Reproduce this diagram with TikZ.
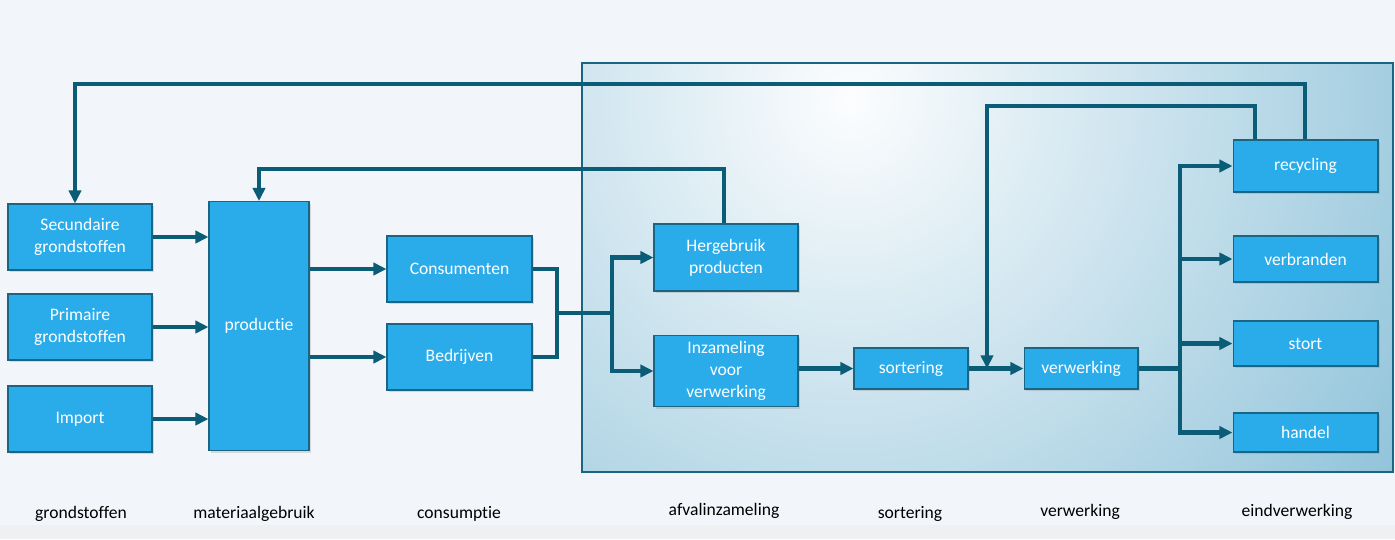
\documentclass[tikz,border=0pt]{standalone}
\usepackage{fontspec}
\setmainfont{Carlito}[Ligatures=NoCommon]
\usepackage{xcolor}
\usetikzlibrary{
    arrows.meta,
    shadows,
    calc,
    positioning
}
\definecolor{pagebg}{HTML}{F2F5FA}
\definecolor{stripbg}{HTML}{EFF0F2}
\definecolor{boxfill}{HTML}{2AACEB}
\definecolor{boxline}{HTML}{1B6584}
\definecolor{flowline}{HTML}{0B5C76}
\definecolor{zoneouter}{HTML}{8EC2D9}
\definecolor{zoneinner}{HTML}{FCFDFE}
\tikzset{
    stage/.style={rectangle, draw=boxline, line width=0.6pt, fill=boxfill,
        text=white, align=center, font=\fontsize{10}{12.5}\selectfont,
        drop shadow={opacity=0.25, shadow xshift=1.2pt, shadow yshift=-1.2pt}},
    phase/.style={text=black, font=\fontsize{10}{12}\selectfont},
    flow/.style={draw=flowline, line width=2.3pt, -{Triangle[length=7.5pt,width=7pt]}},
    link/.style={draw=flowline, line width=2.3pt}
}

\begin{document}
\begin{tikzpicture}[x=0.02cm, y=-0.02cm]
    % achtergrond
    \fill[pagebg] (0,0) rectangle (1395,539);
    \fill[stripbg] (0,525) rectangle (1395,539);
    \useasboundingbox (0,0) rectangle (1395,539);

    % afvalzone
    \begin{scope}
        \clip (582,63) rectangle (1393,472);
        \fill[zoneouter] (582,63) rectangle (1393,472);
        \shade[inner color=zoneinner, outer color=zoneouter] (850,100) circle (680);
    \end{scope}
    \draw[boxline, line width=0.6pt] (582,63) rectangle (1393,472);

    % grondstoffen
    \node[stage, minimum width=2.88cm, minimum height=1.32cm] (sec) at (80,237) {Secundaire\\grondstoffen};
    \node[stage, minimum width=2.88cm, minimum height=1.32cm] (prim) at (80,327) {Primaire\\grondstoffen};
    \node[stage, minimum width=2.88cm, minimum height=1.32cm] (imp) at (80,419) {Import};

    % materiaalgebruik en consumptie
    \node[stage, minimum width=2.0cm, minimum height=4.98cm] (prod) at (259,326) {productie};
    \node[stage, minimum width=2.9cm, minimum height=1.32cm] (cons) at (459.5,269) {Consumenten};
    \node[stage, minimum width=2.9cm, minimum height=1.32cm] (bedr) at (459.5,357) {Bedrijven};

    % afvalinzameling, sortering, verwerking
    \node[stage, minimum width=2.88cm, minimum height=1.34cm] (herg) at (726,257.5) {Hergebruik\\producten};
    \node[stage, minimum width=2.88cm, minimum height=1.32cm] (inz) at (726,371) {Inzameling\\voor\\verwerking};
    \node[stage, minimum width=2.28cm, minimum height=0.82cm] (sort) at (911,368.5) {sortering};
    \node[stage, minimum width=2.28cm, minimum height=0.82cm] (verw) at (1081,368.5) {verwerking};

    % eindverwerking
    \node[stage, minimum width=2.9cm, minimum height=1.04cm] (rec) at (1305.5,166) {recycling};
    \node[stage, minimum width=2.9cm, minimum height=0.92cm] (verb) at (1305.5,259) {verbranden};
    \node[stage, minimum width=2.9cm, minimum height=0.9cm] (stort) at (1305.5,343.5) {stort};
    \node[stage, minimum width=2.9cm, minimum height=0.78cm] (handel) at (1305.5,432.5) {handel};

    % fasen
    \node[phase] (f1) at (81,514) {grondstoffen};
    \node[phase] (f2) at (254,514) {materiaalgebruik};
    \node[phase] (f3) at (459,514) {consumptie};
    \node[phase] (f4) at (724,511) {afvalinzameling};
    \node[phase] (f5) at (910,514) {sortering};
    \node[phase] (f6) at (1080,512) {verwerking};
    \node[phase] (f7) at (1297,512) {eindverwerking};

    % knooppunten
    \coordinate (jc) at (557,313);
    \coordinate (ja) at (612,313);
    \coordinate (jv) at (1180,368.5);
    \coordinate (js) at (987,368.5);

    % stromen
    \draw[flow] (sec.east) -- (prod.west |- sec.east);
    \draw[flow] (prim.east) -- (prod.west |- prim.east);
    \draw[flow] (imp.east) -- (prod.west |- imp.east);
    \draw[flow] (prod.east |- cons.west) -- (cons.west);
    \draw[flow] (prod.east |- bedr.west) -- (bedr.west);
    \draw[link] (cons.east) -| (jc) |- (bedr.east);
    \draw[link] (jc) -- (ja);
    \draw[flow] (ja) |- (herg.west);
    \draw[flow] (ja) |- (inz.west);
    \draw[flow] (inz.east |- sort.west) -- (sort.west);
    \draw[flow] (sort.east) -- (verw.west);
    \draw[link] (verw.east) -- (jv);
    \draw[flow] (jv) |- (rec.west);
    \draw[flow] (jv) |- (verb.west);
    \draw[flow] (jv) |- (stort.west);
    \draw[flow] (jv) |- (handel.west);

    % terugkoppelingen
    \draw[flow] (herg.north -| 724,0) |- (259,169) -- (prod.north);
    \draw[flow] (rec.north -| 1255,0) |- (987,106) -- (js);
    \draw[flow] (rec.north -| 1305,0) |- (75,84) -- (sec.north -| 75,0);
\end{tikzpicture}
\end{document}
